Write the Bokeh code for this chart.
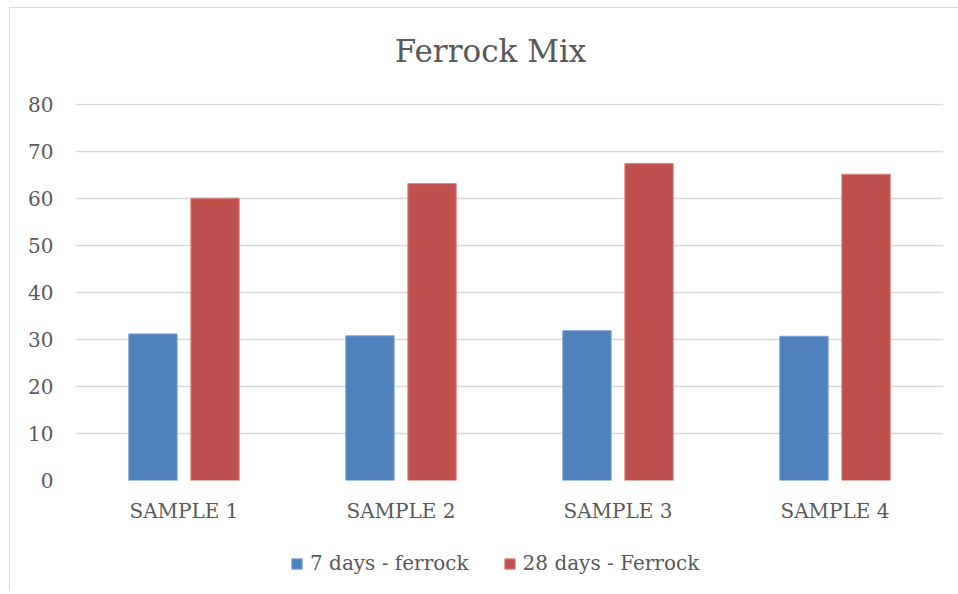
from bokeh.plotting import figure
from bokeh.models import ColumnDataSource, FactorRange, Legend, LegendItem, Range1d, Label
from bokeh.layouts import column
from bokeh.transform import dodge
from bokeh.embed import file_html
from bokeh.resources import INLINE

samples = ["SAMPLE 1", "SAMPLE 2", "SAMPLE 3", "SAMPLE 4"]
days7 = [31.2, 30.8, 31.9, 30.7]
days28 = [60.1, 63.2, 67.5, 65.2]
series_names = ["7 days - ferrock", "28 days - Ferrock"]
y_ticks = [0, 10, 20, 30, 40, 50, 60, 70, 80]
title_text = "Ferrock Mix"

FONT = "DejaVu Serif"
TXT = "#595959"
BLUE = "#4F81BD"
RED = "#C0504D"
W = 948
OX = 10   # box left offset (margin + border)
OY = 8    # box top offset
HT = 80   # title strip height


def strip(h):
    f = figure(width=W, height=h, x_range=Range1d(0, 1), y_range=Range1d(0, 1),
               output_backend="svg", toolbar_location=None)
    f.min_border_left = 0
    f.min_border_right = 0
    f.min_border_top = 0
    f.min_border_bottom = 0
    f.outline_line_color = None
    f.axis.visible = False
    f.grid.visible = False
    return f


# title strip
tf = strip(HT)
tf.add_layout(Label(x=415, y=HT - (50 - OY), x_units="screen", y_units="screen",
                    text=title_text, text_font=FONT, text_font_size="31px",
                    text_color=TXT, text_align="center", text_baseline="middle"))

# main chart
src = ColumnDataSource(dict(x=samples, d7=days7, d28=days28))

p = figure(width=W, height=535 - OY - HT, x_range=FactorRange(*samples, range_padding=0),
           y_range=Range1d(0, 80.25), output_backend="svg", toolbar_location=None)
p.min_border_left = 75 - OX
p.min_border_right = W - (943 - OX)
p.min_border_top = 103 - OY - HT
p.min_border_bottom = 55
p.outline_line_color = None

r1 = p.vbar(x=dodge("x", -0.143, range=p.x_range), top="d7", width=0.223, source=src,
            fill_color=BLUE, line_color="#7FA3D3", line_width=1)
r2 = p.vbar(x=dodge("x", 0.143, range=p.x_range), top="d28", width=0.223, source=src,
            fill_color=RED, line_color="#D98A88", line_width=1)

p.xgrid.grid_line_color = None
p.ygrid.grid_line_color = "#d9d9d9"
p.ygrid.grid_line_width = 1.3
p.yaxis.ticker = y_ticks

for ax in (p.xaxis, p.yaxis):
    ax.axis_line_color = None
    ax.major_tick_line_color = None
    ax.minor_tick_line_color = None
    ax.major_label_text_font = FONT
    ax.major_label_text_font_size = "20px"
    ax.major_label_text_color = TXT
p.yaxis.major_label_standoff = 16
p.xaxis.major_label_standoff = 12

# legend strip below the chart
lg = strip(55)
lsrc = ColumnDataSource(dict(x=[0.5], t=[-5.0], b=[-6.0]))
d1 = lg.vbar(x="x", top="t", bottom="b", width=0.1, source=lsrc, fill_color=BLUE, line_color="#7FA3D3")
d2 = lg.vbar(x="x", top="t", bottom="b", width=0.1, source=lsrc, fill_color=RED, line_color="#D98A88")

legend = Legend(items=[LegendItem(label=series_names[0], renderers=[d1]),
                       LegendItem(label=series_names[1], renderers=[d2])],
                orientation="horizontal", location=(215, 15))
legend.label_text_font = FONT
legend.label_text_font_size = "20px"
legend.label_text_color = TXT
legend.glyph_width = 13
legend.glyph_height = 13
legend.label_standoff = 7
legend.spacing = 34
legend.border_line_color = None
legend.background_fill_alpha = 0
legend.margin = 0
legend.padding = 4
lg.add_layout(legend, "center")

layout = column(tf, p, lg, spacing=0)
layout.styles = {"border-left": "1px solid #d9d9d9", "border-top": "1px solid #d9d9d9",
                 "margin-left": "9px", "margin-top": "7px"}
open("out.html", "w").write(file_html(layout, INLINE))
